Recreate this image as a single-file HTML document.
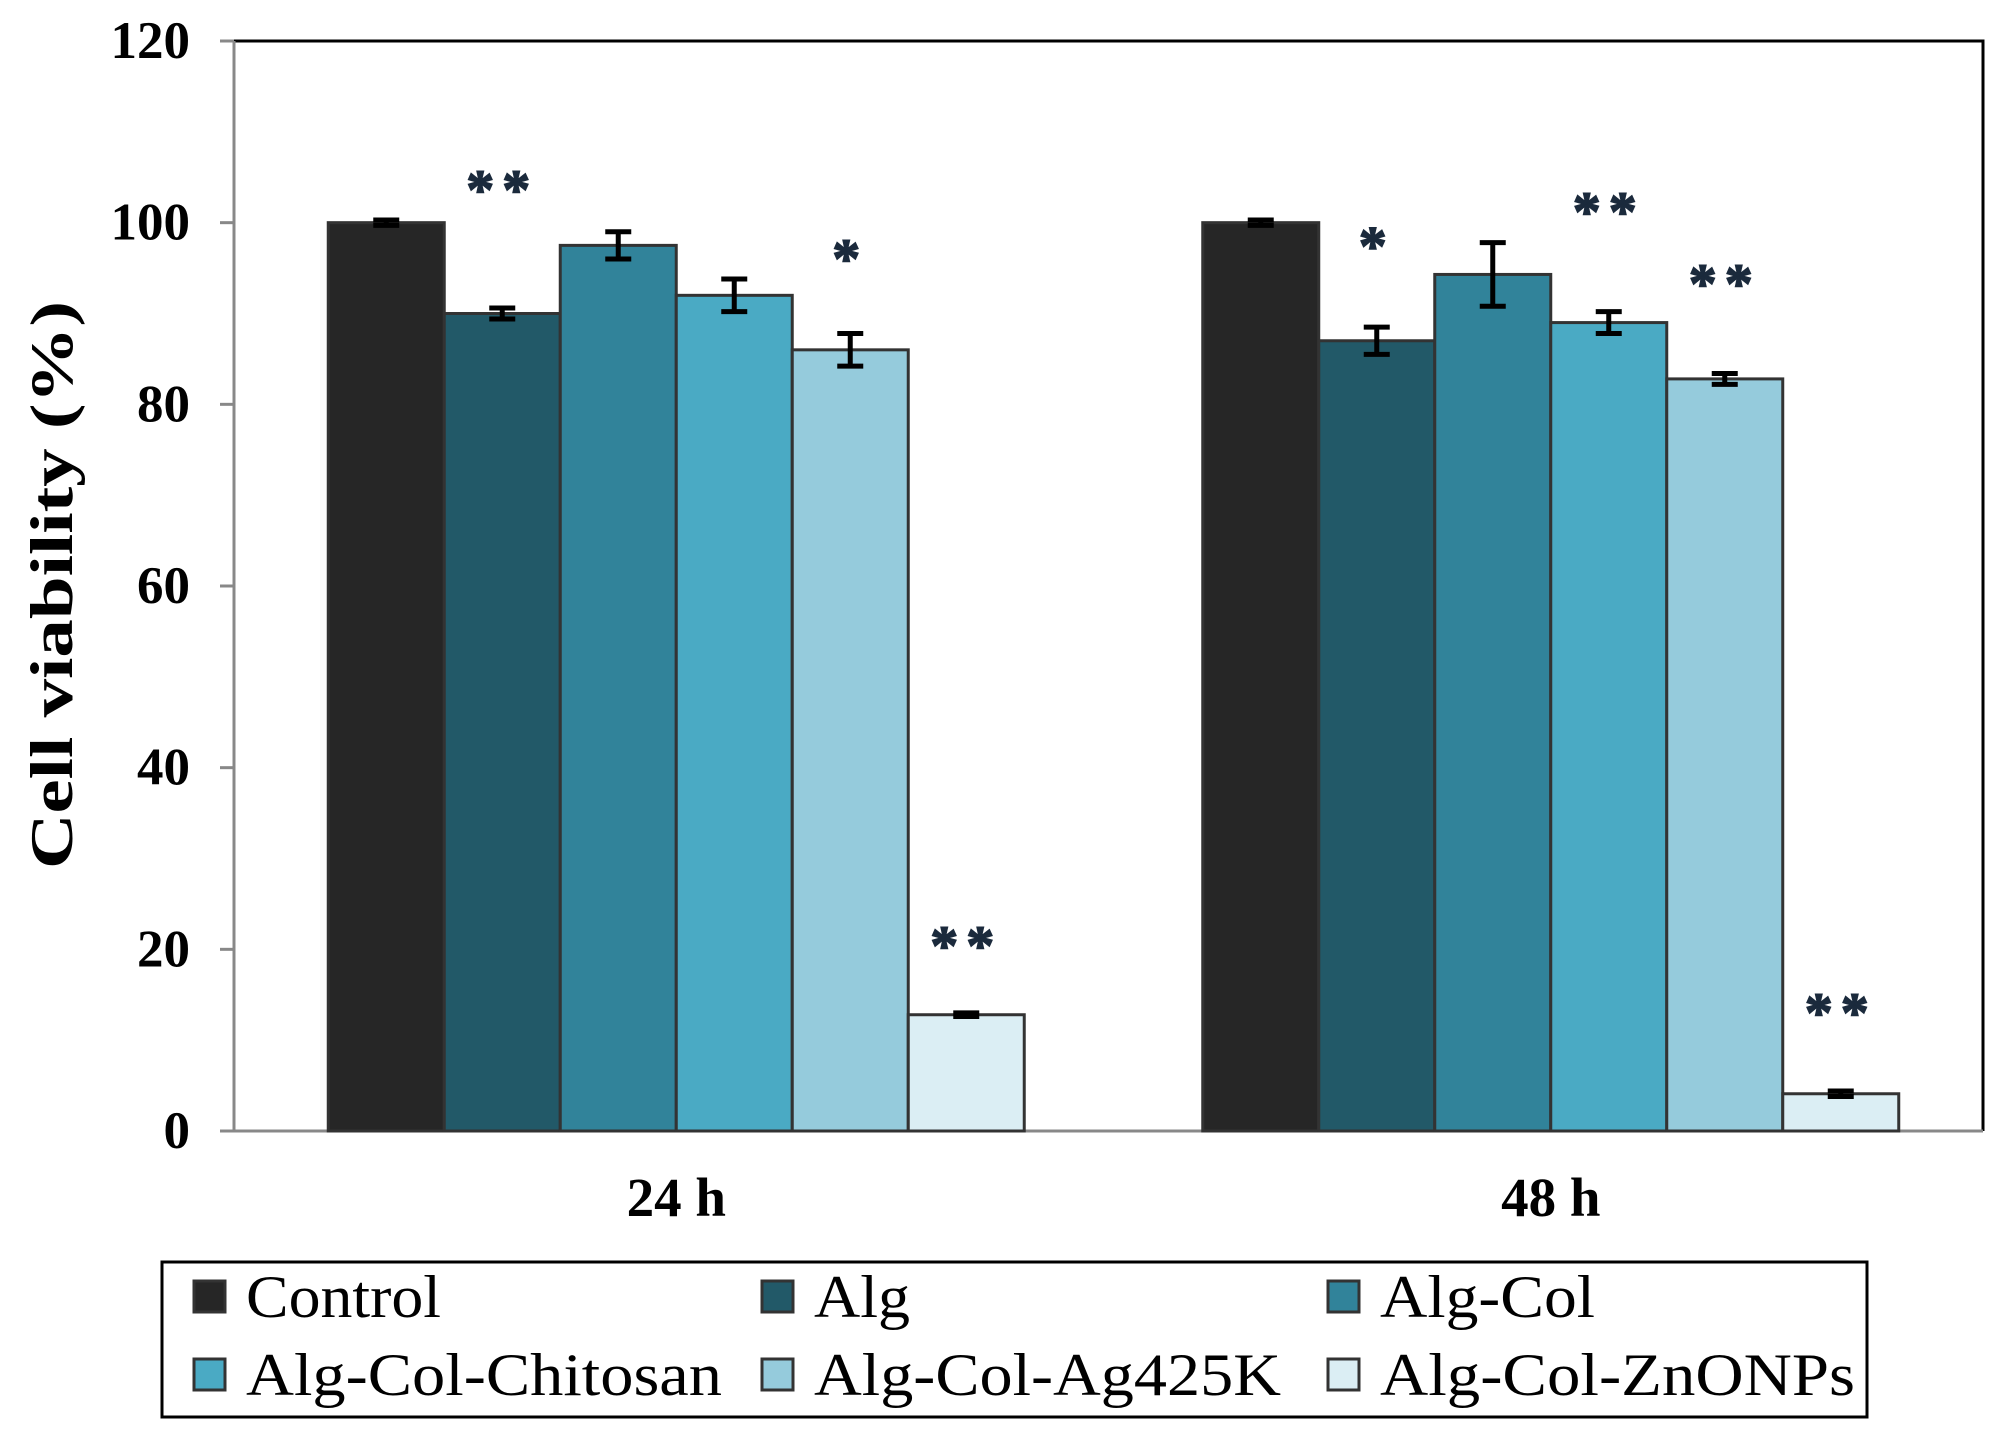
<!DOCTYPE html>
<html><head><meta charset="utf-8"><style>
html,body{margin:0;padding:0;background:#fff}
svg{display:block}
</style></head><body>
<svg id="chart" width="2002" height="1438" viewBox="0 0 2002 1438" xmlns="http://www.w3.org/2000/svg" font-family="'Liberation Serif', serif">
<g id="axes"></g>
<g id="bars"></g>
<g id="legend">
  <rect x="162" y="1262" width="1705" height="155" fill="#fff" stroke="#000" stroke-width="3"/>
</g>
</svg>
<script>
const categories = ["24 h", "48 h"];
const seriesNames = ["Control", "Alg", "Alg-Col", "Alg-Col-Chitosan", "Alg-Col-Ag425K", "Alg-Col-ZnONPs"];
const values24 = [100, 90, 97.5, 92, 86, 12.8];
const values48 = [100, 87, 94.3, 89, 82.8, 4.1];
const errors24 = [0.3, 0.6, 1.5, 1.8, 1.8, 0.2];
const errors48 = [0.3, 1.5, 3.5, 1.2, 0.6, 0.3];
const stars24 = ["", "**", "", "", "*", "**"];
const stars48 = ["", "*", "", "**", "**", "**"];
const starLevel24 = [0, 104.4, 0, 0, 96.8, 21.2];
const starLevel48 = [0, 98.2, 0, 102, 94.1, 13.8];
const yTicks = [0, 20, 40, 60, 80, 100, 120];

const colors = ["#262626", "#225968", "#31839a", "#4aaac4", "#95cbdc", "#dbeef4"];
const legendWidths = [195, 96, 215, 476, 467, 475];
const NS = "http://www.w3.org/2000/svg";
const L = 234, R = 1983, T = 41, B = 1131;
const yMax = 120;
function y(v){ return B - v / yMax * (B - T); }
const catW = (R - L) / categories.length;
const barW = 116;
function catCenter(i){ return L + catW * (i + 0.5) + 5; }
function barX(ci, si){ return catCenter(ci) - barW * seriesNames.length / 2 + si * barW; }
function mk(tag, attrs, parent, text){
  const e = document.createElementNS(NS, tag);
  for (const k in attrs) e.setAttribute(k, attrs[k]);
  if (text !== undefined) e.textContent = text;
  parent.appendChild(e);
  return e;
}
const axes = document.getElementById('axes');
const bars = document.getElementById('bars');
const legend = document.getElementById('legend');

let fr = mk('path', {d:`M${L} ${T} H${R} V${B}`, fill:'none', stroke:'#000', 'stroke-width':3}, axes);


let ya = mk('line', {x1:L, y1:T, x2:L, y2:B, stroke:'#888', 'stroke-width':3}, axes);


let xa = mk('line', {x1:L-14, y1:B, x2:R, y2:B, stroke:'#888', 'stroke-width':3}, axes);



yTicks.forEach(t => {
  const tk = mk('line', {x1:L-14, y1:y(t), x2:L, y2:y(t), stroke:'#888', 'stroke-width':3}, axes);
  
  
  const lb = mk('text', {x:190, y:y(t)+17, 'text-anchor':'end', 'font-size':53, 'font-weight':'bold'}, axes, String(t));
  
  
});
const yt = mk('text', {transform:'translate(72,585) rotate(-90)', 'text-anchor':'middle', 'font-size':60, 'font-weight':'bold', textLength:568, lengthAdjust:'spacingAndGlyphs'}, axes, 'Cell viability (%)');



categories.forEach((c, ci) => {
  const lb = mk('text', {x:catCenter(ci), y:1216, 'text-anchor':'middle', 'font-size':55, 'font-weight':'bold'}, axes, c);
  
  
  const vals = ci === 0 ? values24 : values48;
  const errs = ci === 0 ? errors24 : errors48;
  const stars = ci === 0 ? stars24 : stars48;
  const lv = ci === 0 ? starLevel24 : starLevel48;
  vals.forEach((v, si) => {
    const x = barX(ci, si);
    const r = mk('rect', {x:x, y:y(v), width:barW, height:B - y(v), fill:colors[si], stroke:'#333', 'stroke-width':3}, bars);
    
    
    const cx = x + barW / 2, e = errs[si];
    const eb = mk('path', {d:`M${cx} ${y(v+e)} V${y(v-e)} M${cx-13} ${y(v+e)} H${cx+13} M${cx-13} ${y(v-e)} H${cx+13}`, stroke:'#000', 'stroke-width':5, fill:'none'}, bars);
    
    
    if (stars[si]) {
      const st = mk('text', {x:cx, y:y(lv[si]) + 26, 'text-anchor':'middle', 'font-size':56, 'font-weight':'bold', fill:'#1b2a3c', stroke:'#1b2a3c', 'stroke-width':1.5, 'letter-spacing':8}, bars, stars[si]);
      
      
    }
  });
});

const swX = [194, 762, 1328], rowY = [1297, 1375];
seriesNames.forEach((n, i) => {
  const col = i % 3, row = Math.floor(i / 3);
  const sw = mk('rect', {x:swX[col], y:rowY[row]-16, width:31, height:31, fill:colors[i], stroke:'#333', 'stroke-width':3}, legend);
  
  
  const tx = mk('text', {x:swX[col]+52, y:rowY[row]+20, 'font-size':60, textLength:legendWidths[i], lengthAdjust:'spacingAndGlyphs'}, legend, n);
  
  
});
</script>
</body></html>
